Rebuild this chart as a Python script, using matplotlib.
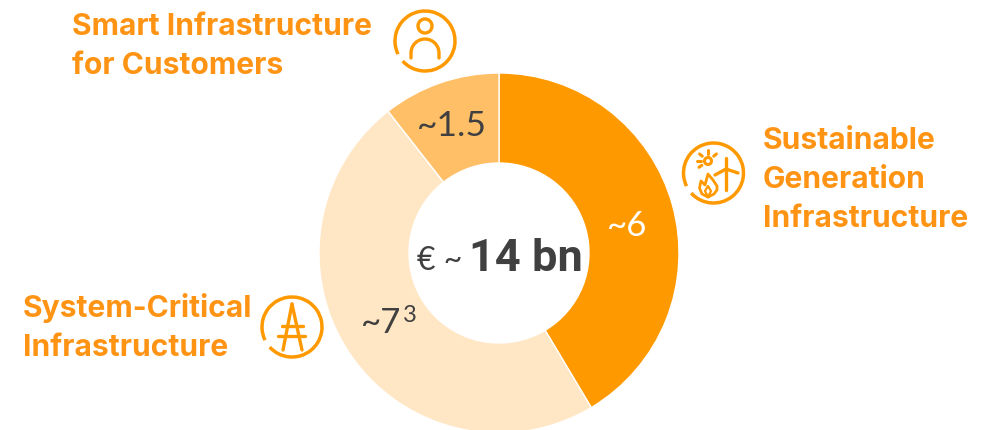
import numpy as np
import matplotlib
matplotlib.use("Agg")
import matplotlib.pyplot as plt
from matplotlib.patches import Arc, Circle

#Slice values, clockwise from the top
segments = ["Sustainable Generation Infrastructure", "System-Critical Infrastructure", "Smart Infrastructure for Customers"]
values = [6, 6.95, 1.53]
value_labels = ["~6", "~7", "~1.5"]
total_label = "14 bn"

ORANGE = "#FF9900"
TEXT_ORANGE = "#FF9414"
DARK = "#404040"
colors = [ORANGE, "#FFE6C4", "#FFBF66"]
W, H = 995, 431

plt.rcParams["font.family"] = ["Roboto", "DejaVu Sans"]
fig = plt.figure(figsize=(W / 100, H / 100), dpi=100)

#Donut gets its own axes placed by pixels
cx, cy, r = 499, 254, 180
ax_pie = fig.add_axes([(cx - r) / W, 1 - (cy + r) / H, 2 * r / W, 2 * r / H])
ax_pie.pie(values, colors=colors, startangle=90, counterclock=False, radius=1,
           wedgeprops=dict(width=90 / 180, edgecolor="white", linewidth=1))
ax_pie.set_xlim(-1, 1)
ax_pie.set_ylim(-1, 1)
ax_pie.axis("off")

#Overlay in pixel coordinates for text and icons
ax = fig.add_axes([0, 0, 1, 1])
ax.set_xlim(0, W)
ax.set_ylim(H, 0)
ax.axis("off")
ax.patch.set_alpha(0)


def label(x, y, s):
    ax.text(x, y, s, color=TEXT_ORANGE, fontsize=21.6, fontweight="bold", va="baseline", ha="left",
            family=["Inter", "DejaVu Sans"])


def number(x, y, s, color=DARK, size=25):
    ax.text(x, y, s, color=color, fontsize=size, fontweight="normal", va="baseline",
            family=["Lato", "DejaVu Sans"])


def ring(x, y):
    #open circle with a small gap at the lower left
    ax.add_patch(Arc((x, y), 60, 60, theta1=154, theta2=138, color=ORANGE, lw=2.5))


def line(xs, ys, lw=2.4):
    ax.plot(xs, ys, color=ORANGE, lw=lw, solid_capstyle="round", solid_joinstyle="round")


label(72, 35, "Smart Infrastructure")
label(72, 74, "for Customers")
label(763, 149, "Sustainable")
label(763, 188, "Generation")
label(763, 227, "Infrastructure")
label(23, 317, "System-Critical")
label(23, 356, "Infrastructure")

#Value labels
number(607, 236, value_labels[0], color="white")
number(361, 333, value_labels[1])
number(403, 322, "3", size=17)
number(417, 136, value_labels[2], size=25.5)

#Centre label
number(417, 270, "€ ~", size=23)
ax.text(469, 271, total_label, color=DARK, fontsize=32.5, fontweight="bold", va="baseline")

#Person icon
ring(425, 42)
ax.add_patch(Circle((425, 27), 7, fill=False, color=ORANGE, lw=2.4))
t = np.radians(np.arange(180, 361, 10))
line(np.r_[411, 425 + 14 * np.cos(t), 439], np.r_[59, 54 + 14 * np.sin(t), 59])

#Pylon icon
ring(292, 328)
line([292, 283], [305, 351])
line([292, 302], [305, 351])
line([282, 303], [327, 327])
line([278, 305], [337, 337])

#Generation icon: sun, wind turbine, flame
ring(713.5, 174)
ax.add_patch(Circle((708, 162), 3.5, fill=False, color=ORANGE, lw=2.2))
for a in [180, 140, 90, 40, 215]:
    c, s = np.cos(np.radians(a)), np.sin(np.radians(a))
    line([708 + 7.5 * c, 708 + 11 * c], [162 - 7.5 * s, 162 - 11 * s], lw=2.2)
line([726, 726], [159, 191])
line([715, 726, 738], [176, 170, 174])
line([708, 702, 699.5, 701, 705, 708, 713, 717, 717, 714, 708],
     [198, 195, 189, 182, 186, 175, 181, 187, 191, 195, 198], lw=2)
line([708, 705, 708, 711, 708], [198, 192, 187, 192, 198], lw=1.6)

fig.savefig("out.png", dpi=100)
